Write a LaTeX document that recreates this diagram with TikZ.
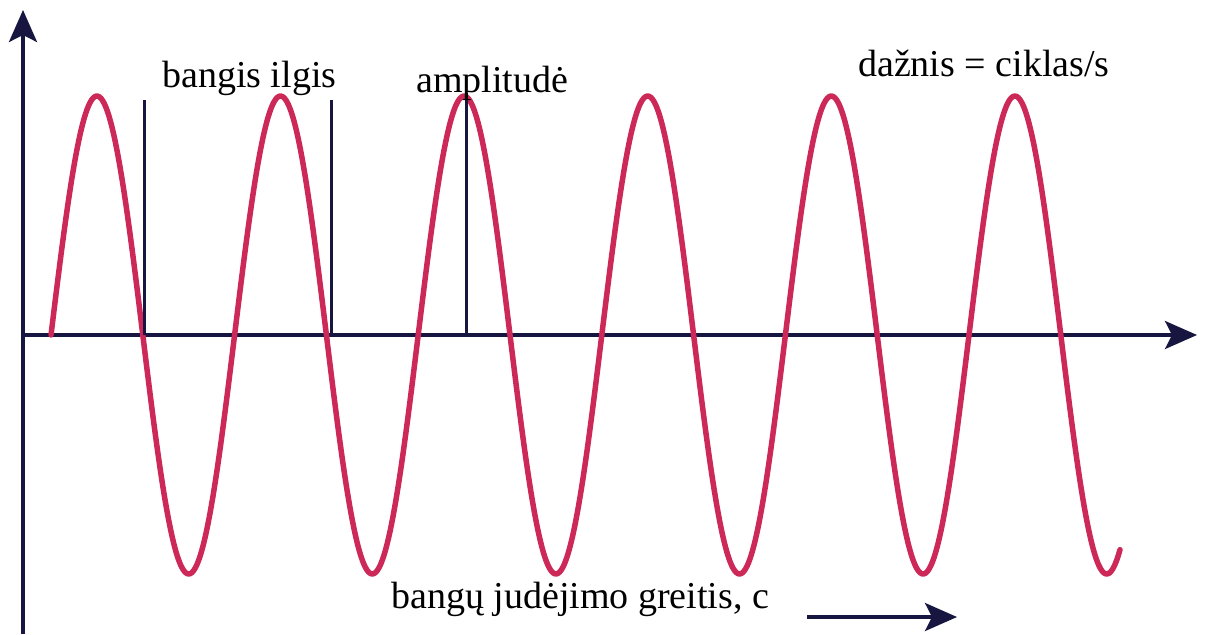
\documentclass[tikz,border=0pt]{standalone}
\usepackage{fontspec}
\setmainfont{Liberation Serif}
\usetikzlibrary{arrows.meta}
\definecolor{wavered}{RGB}{204,40,88}
\definecolor{axisnavy}{RGB}{22,22,64}
\tikzset{
  axisline/.style={draw=axisnavy, line width=3.5pt, -{Stealth[length=32pt,width=28pt,inset=7pt]}},
  marker/.style={draw=axisnavy, line width=3pt},
  wave/.style={draw=wavered, line width=5.5pt, line cap=round, line join=round},
  lbl/.style={font=\fontsize{38}{41}\selectfont, text=black, inner sep=0pt, anchor=base west},
}
\begin{document}
\begin{tikzpicture}[x=1pt,y=-1pt]
\useasboundingbox (0,0) rectangle (1206,634);
% axes
\coordinate (ybot) at (23,634);
\coordinate (ytop) at (23,10);
\coordinate (xleft) at (23,335);
\coordinate (xright) at (1197,335);
\draw[axisline] (ybot) -- (ytop);
\draw[axisline] (xleft) -- (xright);
% wave
\draw[wave] plot[domain=51:1120, samples=600, smooth] (\x, {335-239*sin(1.960784*(\x-51))});
% markers
\coordinate (m1t) at (144,100); \coordinate (m1b) at (144,335);
\coordinate (m2t) at (331,100); \coordinate (m2b) at (331,335);
\coordinate (m3t) at (466,93);  \coordinate (m3b) at (466,335);
\draw[marker] (m1t) -- (m1b);
\draw[marker] (m2t) -- (m2b);
\draw[marker] (m3t) -- (m3b);
% labels
\node[lbl] (wl) at (162,87) {bangis ilgis};
\node[lbl] (amp) at (416,92) {amplitudė};
\node[lbl] (freq) at (858,77) {dažnis = ciklas/s};
\node[lbl] (speed) at (391,608) {bangų judėjimo greitis, c};
% speed arrow
\coordinate (sa) at (807,617);
\coordinate (sb) at (957,617);
\draw[axisline] (sa) -- (sb);
\end{tikzpicture}
\end{document}
